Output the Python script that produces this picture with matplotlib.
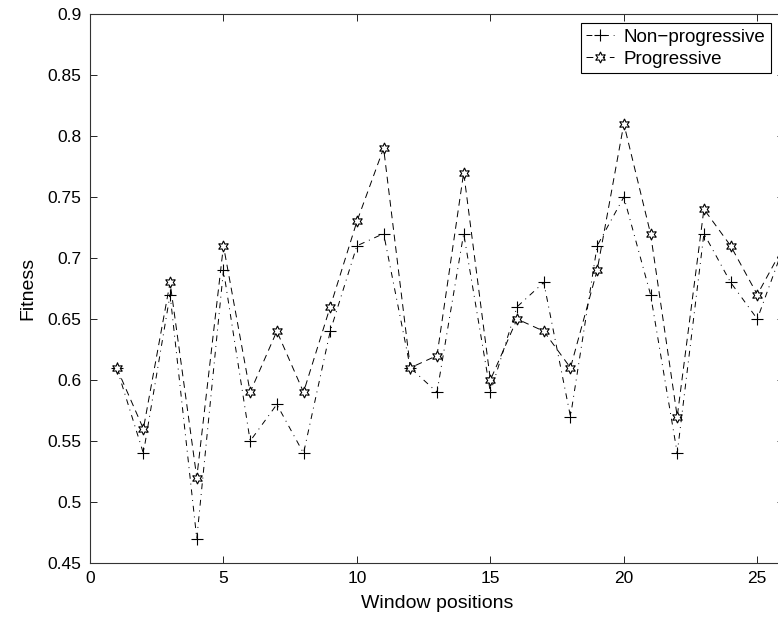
import numpy as np
import matplotlib
matplotlib.use("Agg")
import matplotlib.pyplot as plt

plt.rcParams['font.family'] = ['Liberation Sans', 'DejaVu Sans']

# Данные: позиции окна и значения приспособленности
positions = np.arange(1, 27)
non_progressive = [0.61, 0.54, 0.67, 0.47, 0.69, 0.55, 0.58, 0.54, 0.64, 0.71,
                   0.72, 0.61, 0.59, 0.72, 0.59, 0.66, 0.68, 0.57, 0.71, 0.75,
                   0.67, 0.54, 0.72, 0.68, 0.65, 0.71]
progressive = [0.61, 0.56, 0.68, 0.52, 0.71, 0.59, 0.64, 0.59, 0.66, 0.73,
               0.79, 0.61, 0.62, 0.77, 0.60, 0.65, 0.64, 0.61, 0.69, 0.81,
               0.72, 0.57, 0.74, 0.71, 0.67, 0.71]
x_ticks = [0, 5, 10, 15, 20, 25]
y_ticks = [0.45, 0.5, 0.55, 0.6, 0.65, 0.7, 0.75, 0.8, 0.85, 0.9]

W, H = 778, 626
fig = plt.figure(figsize=(W / 100, H / 100), dpi=100)
# ось выходит немного за правый край картинки, как в оригинале
ax = fig.add_axes([90 / W, (H - 563) / H, 694 / W, 549 / H])

ax.plot(positions, non_progressive, color='black', linestyle=(0, (6, 5, 1, 5)), linewidth=0.7,
        marker='+', markersize=9, markeredgewidth=0.8, label='Non\u2212progressive')
ax.plot(positions, progressive, color='black', linestyle=(0, (7, 5)), linewidth=0.7,
        marker=(6, 1, 0), markersize=8, markerfacecolor='white', markeredgewidth=0.8,
        label='Progressive')

ax.set_xlim(0, 26)
ax.set_ylim(0.45, 0.9)
ax.set_xticks(x_ticks)
ax.set_yticks(y_ticks)
ax.set_yticklabels([('%g' % v) for v in y_ticks])
ax.tick_params(direction='in', top=True, right=True, length=5, width=0.6,
               labelsize=12.5, pad=6)
for s in ax.spines.values():
    s.set_linewidth(0.8)
    s.set_color('#333333')

ax.set_xlabel('Window positions', fontsize=14, labelpad=6)
ax.set_ylabel('Fitness', fontsize=14, labelpad=8)

leg = ax.legend(loc='upper right', bbox_to_anchor=(771 / W, 1 - 23 / H),
                bbox_transform=fig.transFigure, fontsize=13.5, handlelength=1.5,
                handletextpad=0.5, borderpad=0.3, borderaxespad=0, labelspacing=0.25,
                fancybox=False, framealpha=1, edgecolor='black')
leg.get_frame().set_linewidth(0.8)

fig.savefig('out.png', dpi=100)
